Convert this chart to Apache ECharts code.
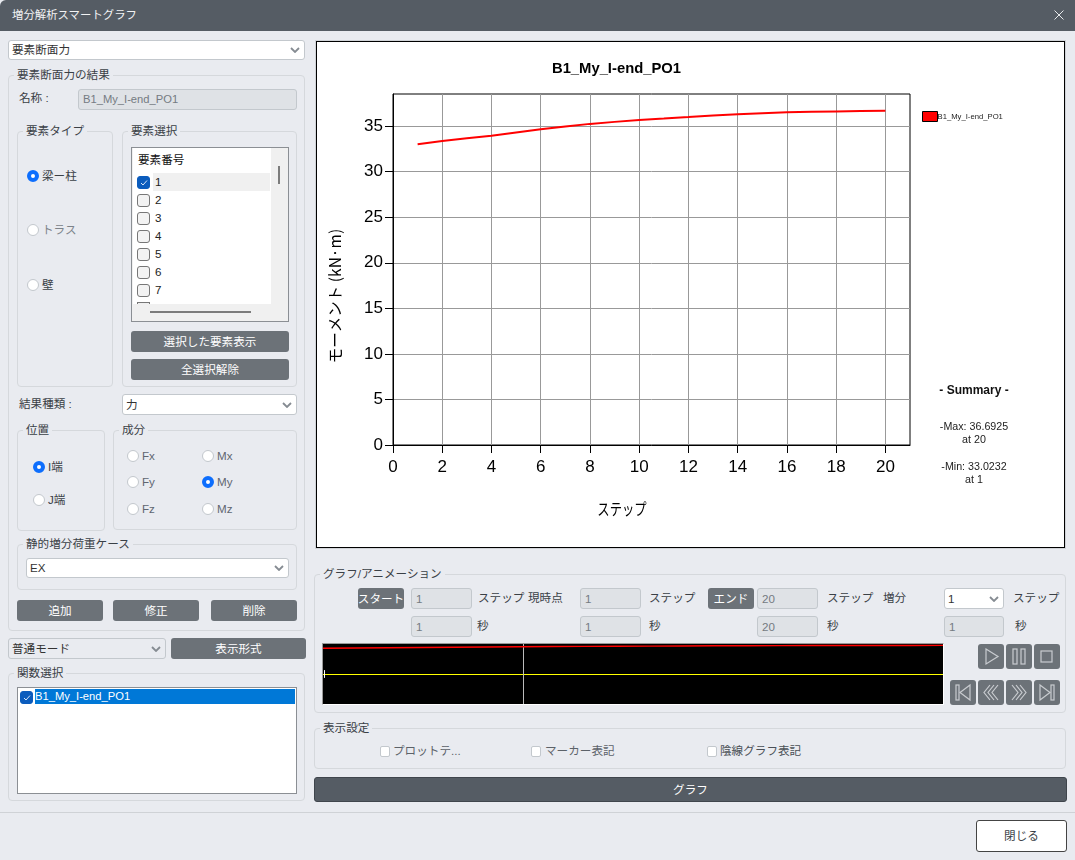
<!DOCTYPE html>
<html lang="ja"><head><meta charset="utf-8"><title>増分解析スマートグラフ</title>
<script src="https://cdn.jsdelivr.net/npm/echarts@6/dist/echarts.min.js"></script>
<style>
html,body{margin:0;padding:0;width:1075px;height:860px;overflow:hidden;background:#e9ebf0;font:11.6px/1 "Liberation Sans","Noto Sans CJK JP",sans-serif;color:#3a4046}
.a{position:absolute;box-sizing:border-box;white-space:nowrap}
.t{display:flex;align-items:center}
.g{border:1px solid #d5d8dc;border-radius:4px}
.lg{background:#e9ebf0;padding:0 3px;transform:translateY(-50%)}
.i{background:#dfe2e6;border:1px solid #c3c8cd;border-radius:3px;color:#757b82;display:flex;align-items:center;padding-left:4px}
.c{background:#fff;border:1px solid #c3c8cd;border-radius:3px;display:flex;align-items:center;padding-left:3px;color:#333}
.c svg,.cb svg{position:absolute;right:4px;top:50%;margin-top:-3px}
.b{background:#6c7278;color:#fff;border-radius:3px;display:flex;align-items:center;justify-content:center}
.r{width:12px;height:12px;border-radius:50%;background:#fff;border:1px solid #c3c8cd}
.r.on{border:4px solid #0d6efd}
.k{width:13px;height:13px;border-radius:3px;background:#f3f3f3;border:1px solid #777}
.k.on{background:#0b5cbd;border-color:#0b5cbd}
.k2{width:10px;height:11px;border-radius:2px;background:#fff;border:1px solid #c3c8cd}
#chart{position:absolute;left:0;top:0;width:1075px;height:860px}
</style></head><body>
<div id="ui"></div><div id="chart"></div>
<script>
const chartTitle = 'B1_My_I-end_PO1';
const yAxisTitle = 'モーメント (kN·m)';
const xAxisTitle = 'ステップ';
const steps = [1,2,3,4,5,6,7,8,9,10,11,12,13,14,15,16,17,18,19,20];
const moments = [33.0232,33.38,33.68,33.95,34.3,34.65,34.95,35.25,35.47,35.68,35.83,36.0,36.18,36.32,36.43,36.52,36.57,36.62,36.66,36.6925];
const xTicks = [0,2,4,6,8,10,12,14,16,18,20];
const yTicks = [0,5,10,15,20,25,30,35];
const summaryLines = ['- Summary -','-Max: 36.6925','at 20','-Min: 33.0232','at 1'];
const overviewCursorStep = [7.13];
const elementNumbers = ['1','2','3','4','5','6','7'];

const ui = document.getElementById('ui');
function el(x,y,w,h,cls,txt,extra){const d=document.createElement('div');d.className='a '+cls;d.style.cssText=`left:${x}px;top:${y}px;`+(w?`width:${w}px;`:'')+(h?`height:${h}px;`:'')+(extra||'');if(txt!=null)d.innerHTML=txt;ui.appendChild(d);return d;}
const chev='<svg width="10" height="6" viewBox="0 0 10 6"><polyline points="1,1 5,5 9,1" fill="none" stroke="#858b92" stroke-width="1.8"/></svg>';
const tick='<svg width="13" height="13" viewBox="0 0 13 13" style="position:absolute;left:-1px;top:-1px"><polyline points="4,7 6,9 10,4.5" fill="none" stroke="#d8e6f8" stroke-width="1"/></svg>';
function text(x,cy,s,extra){return el(x,cy-8,0,16,'t',s,extra);}
function group(x,y,w,h,label){el(x,y,w,h,'g');el(x+6,y,0,0,'lg',label,'padding:0 3px;line-height:14px;height:14px;');}
function combo(x,y,w,h,s,extra){el(x,y,w,h,'c',s+chev,extra);}
function input(x,y,w,h,s){el(x,y,w,h,'i',s);}
function btn(x,y,w,h,s){el(x,y,w,h,'b',s);}
function radio(x,y,s,on,col){el(x-6,y-6,12,12,'r'+(on?' on':''));text(x+9,y,s,col?`color:${col};`:'');}
function check(x,y,on){el(x,y,13,13,'k'+(on?' on':''),on?tick:'');}

// title bar
el(0,0,1075,31,'t','','background:#555c64;color:#f2f3f4;padding-left:12px;border-top-left-radius:6px;font-size:11.4px;').textContent='増分解析スマートグラフ';
el(1053,9,12,12,'','<svg width="12" height="12"><path d="M1.5 1.5L10.5 10.5M10.5 1.5L1.5 10.5" stroke="#e8eaec" stroke-width="1"/></svg>');

// left column
combo(8,40,297,20,'要素断面力');
group(8,75,297,556,'要素断面力の結果');
text(19,98,'名称 :');
el(78,89,219,21,'i','B1_My_I-end_PO1','font-size:11.2px;');
group(17,131,96,256,'要素タイプ');
group(122,131,175,256,'要素選択');
radio(33,176,'梁ー柱',true);
radio(33,230,'トラス',false,'#7d838a');
radio(33,285,'壁',false);
// element list
el(131,147,158,175,'','','background:#f0f0f0;border:1px solid #8b8f94;');
el(133,148,138,156,'','','background:#fff;');
text(138,160,'要素番号','color:#111;');
el(153,173,117,18,'','','background:#f0f0f0;');
elementNumbers.forEach((n,i)=>{const y=182+i*18;check(137,y-6.5,i===0);text(155,y,n,'color:#222;');});
el(137,302,13,2,'','','background:#eee;border:1px solid #777;border-bottom:0;');
el(278,166,2,18,'','','background:#7c7c7c;');
el(150,311,101,2,'','','background:#7c7c7c;');
btn(131,331,158,21,'選択した要素表示');
btn(131,359,158,21,'全選択解除');
text(19,404,'結果種類 :');
combo(122,394,175,21,'力');
group(17,430,88,101,'位置');
radio(39,467,'I端',true);
radio(39,500,'J端',false);
group(113,430,184,100,'成分');
[['Fx',133,456,0],['Mx',208,456,0],['Fy',133,482,0],['My',208,482,1],['Fz',133,509,0],['Mz',208,509,0]].forEach(r=>radio(r[1],r[2],r[0],!!r[3],'#5f6670'));
group(17,544,280,46,'静的増分荷重ケース');
combo(26,558,263,20,'EX');
btn(17,600,86,21,'追加');btn(113,600,86,21,'修正');btn(211,600,86,21,'削除');
el(8,638,158,21,'c','普通モード'+chev,'background:#e9ebf0;');
btn(171,638,135,21,'表示形式');
group(8,673,297,128,'関数選択');
el(17,687,280,107,'','','background:#fff;border:1px solid #8b8f94;');
el(35,689,260,15,'t','B1_My_I-end_PO1','background:#0078d7;color:#fff;padding-left:0;font-size:11.2px;');
check(20,691,true);

// chart frame
el(316,41,749,507,'','','background:#fff;border:1px solid #000;box-shadow:0 0 0 1px #d0d3d7;');

// animation group
group(314,574,752,139,'グラフ/アニメーション');
const r1=588,r2=616,h=21;
btn(358,r1,46,h,'スタート');input(411,r1,61,h,'1');text(478,r1+10,'ステップ');text(528,r1+10,'現時点');
input(580,r1,61,h,'1');text(649,r1+10,'ステップ');
btn(708,r1,46,h,'エンド');input(757,r1,61,h,'20');text(827,r1+10,'ステップ');text(883,r1+10,'増分');
combo(944,r1,60,h,'1');text(1013,r1+10,'ステップ');
input(411,r2,61,h,'1');text(477,r2+10,'秒');input(580,r2,61,h,'1');text(649,r2+10,'秒');
input(757,r2,61,h,'20');text(827,r2+10,'秒');input(944,r2,60,h,'1');text(1015,r2+10,'秒');
el(322,643,622,62,'','','border:1px solid;border-color:#999 #fff #fff #999;');
const S='fill="none" stroke="#c9ccd0" stroke-width="1.2"';
const icons={
 play:`<path d="M8 5L20 12.5L8 20Z" ${S}/>`,
 pause:`<rect x="7" y="5" width="4" height="15" ${S}/><rect x="15" y="5" width="4" height="15" ${S}/>`,
 stop:`<rect x="7" y="7" width="11" height="11" ${S}/>`,
 first:`<rect x="6" y="5" width="3" height="15" ${S}/><path d="M20 5L10 12.5L20 20Z" ${S}/>`,
 back:`<path d="M12 5L6 12.5L12 20M16 5L10 12.5L16 20M20 5L14 12.5L20 20" ${S}/>`,
 fwd:`<path d="M6 5L12 12.5L6 20M10 5L16 12.5L10 20M14 5L20 12.5L14 20" ${S}/>`,
 last:`<rect x="17" y="5" width="3" height="15" ${S}/><path d="M6 5L16 12.5L6 20Z" ${S}/>`};
[['play',978,644],['pause',1006,644],['stop',1034,644],['first',950,680],['back',978,680],['fwd',1006,680],['last',1034,680]].forEach(b=>el(b[1],b[2],26,25,'b',`<svg width="26" height="25">${icons[b[0]]}</svg>`));

// display settings
group(314,728,752,41,'表示設定');
el(380,746,10,11,'k2');text(393,751,'プロットテ...','color:#5c6269;');
el(531,746,10,11,'k2');text(545,751,'マーカー表記','color:#5c6269;');
el(707,746,10,11,'k2');text(720,751,'陰線グラフ表記','color:#4a5056;');
el(314,777,753,25,'b','グラフ','background:#555c64;border:1px solid #3f454c;');
el(0,812,1075,1,'','','background:#cfd2d6;');
el(976,820,91,32,'t','閉じる','background:#fff;border:1px solid #444;border-radius:3px;justify-content:center;');

// chart
const chart=echarts.init(document.getElementById('chart'),null,{renderer:'canvas',width:1075,height:860});
const pts=steps.map((s,i)=>[s,moments[i]]);
const ff='"Liberation Sans",Arial,sans-serif';
const jf='"Noto Sans CJK JP",sans-serif';
chart.setOption({
 animation:false,
 legend:{data:[chartTitle],left:922,top:111,orient:'vertical',icon:'rect',itemWidth:15,itemHeight:10,itemGap:0,padding:0,
   itemStyle:{borderColor:'#000',borderWidth:1},textStyle:{fontFamily:ff,fontSize:7.7,color:'#222',padding:[0,0,0,-5]}},
 grid:[
  {left:393,top:94,width:517,height:351,show:true,borderColor:'#000',borderWidth:1,backgroundColor:'transparent',containLabel:false},
  {left:323,top:644,width:620,height:60,show:true,borderWidth:0,backgroundColor:'#000',containLabel:false}
 ],
 xAxis:[
  {type:'value',gridIndex:0,min:0,max:21,axisLine:{lineStyle:{color:'#000'}},
   axisTick:{customValues:xTicks,length:8,lineStyle:{color:'#000'}},
   axisLabel:{customValues:xTicks,fontFamily:ff,fontSize:17,color:'#000',margin:14,showMinLabel:true,showMaxLabel:true},
   splitLine:{show:true,lineStyle:{color:'#999',width:1}}},
  {type:'value',gridIndex:1,min:1,max:20,show:false,splitLine:{show:false}}
 ],
 yAxis:[
  {type:'value',gridIndex:0,min:0,max:38.53,axisLine:{show:true,lineStyle:{color:'#000'}},
   axisTick:{show:true,customValues:yTicks,length:8,lineStyle:{color:'#000'}},
   axisLabel:{customValues:yTicks,fontFamily:ff,fontSize:17,color:'#000',margin:10},
   splitLine:{show:true,lineStyle:{color:'#999',width:1}}},
  {type:'value',gridIndex:1,min:-38.5,max:38.5,show:false,splitLine:{show:false}}
 ],
 series:[
  {name:chartTitle,type:'line',xAxisIndex:0,yAxisIndex:0,data:pts,showSymbol:false,symbol:'none',itemStyle:{color:'#ff0000'},lineStyle:{color:'#ff0000',width:2},z:5},
  {name:'overview',type:'line',xAxisIndex:1,yAxisIndex:1,data:pts,showSymbol:false,symbol:'none',lineStyle:{color:'#ff0000',width:1.4},z:5,
   markLine:{silent:true,symbol:'none',animation:false,label:{show:false},data:[
     {yAxis:0,lineStyle:{color:'#ffff00',width:1,type:'solid'}},
     {xAxis:overviewCursorStep[0],lineStyle:{color:'#bbbbbb',width:1,type:'solid'}},
     [{coord:[1.03,-5],lineStyle:{color:'#ffffff',width:1,type:'solid'}},{coord:[1.03,5]}]
   ]}}
 ],
 graphic:[
  {type:'text',x:616.5,y:69,style:{text:chartTitle,fontFamily:ff,fontSize:14.8,fontWeight:'bold',fill:'#000',align:'center',verticalAlign:'middle'}},
  {type:'text',x:335,y:296,rotation:Math.PI/2,style:{text:yAxisTitle,fontFamily:jf,fontSize:15.5,fill:'#000',align:'center',verticalAlign:'middle'}},
  {type:'text',x:622,y:509,scaleX:0.77,style:{text:xAxisTitle,fontFamily:jf,fontSize:16,fill:'#000',align:'center',verticalAlign:'middle'}},
  {type:'text',x:974,y:391,style:{text:summaryLines[0],fontFamily:ff,fontSize:12,fontWeight:'bold',fill:'#111',align:'center',verticalAlign:'middle'}},
  {type:'text',x:974,y:427,style:{text:summaryLines[1],fontFamily:ff,fontSize:10.7,fill:'#222',align:'center',verticalAlign:'middle'}},
  {type:'text',x:974,y:440,style:{text:summaryLines[2],fontFamily:ff,fontSize:10.7,fill:'#222',align:'center',verticalAlign:'middle'}},
  {type:'text',x:974,y:467,style:{text:summaryLines[3],fontFamily:ff,fontSize:10.7,fill:'#222',align:'center',verticalAlign:'middle'}},
  {type:'text',x:974,y:480,style:{text:summaryLines[4],fontFamily:ff,fontSize:10.7,fill:'#222',align:'center',verticalAlign:'middle'}}
 ]
});
</script></body></html>
